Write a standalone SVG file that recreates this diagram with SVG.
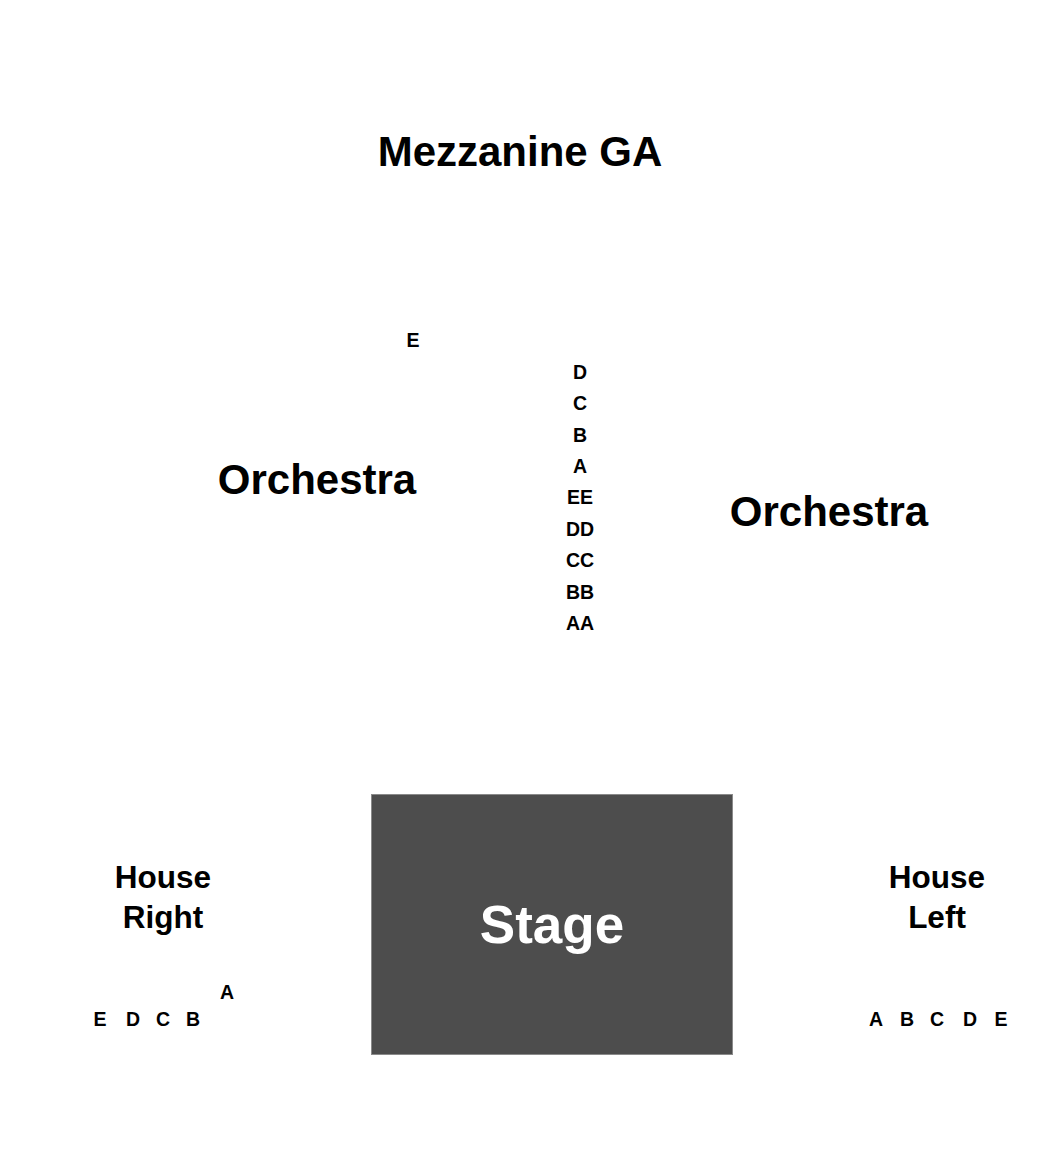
<svg xmlns="http://www.w3.org/2000/svg" width="1050" height="1150" viewBox="0 0 1050 1150">
<style>
text{font-family:"Liberation Sans",Arial,sans-serif;font-weight:bold;fill:#000;text-anchor:middle}
.big{font-size:42px}
.house{font-size:31.5px}
.row{font-size:19.5px}
.stage-label{font-size:53px;fill:#fff}
</style>
<rect x="0" y="0" width="1050" height="1150" fill="#fff"/>
<g id="mezzanine"><text class="big" x="520" y="166">Mezzanine GA</text></g>
<g id="orchestra-left"><text class="big" x="317" y="494">Orchestra</text></g>
<g id="orchestra-right"><text class="big" x="829" y="526">Orchestra</text></g>
<g id="orchestra-rows">
<text class="row" x="413" y="347">E</text>
<text class="row" x="580" y="379">D</text>
<text class="row" x="580" y="410">C</text>
<text class="row" x="580" y="442">B</text>
<text class="row" x="580" y="473">A</text>
<text class="row" x="580" y="504">EE</text>
<text class="row" x="580" y="536">DD</text>
<text class="row" x="580" y="567">CC</text>
<text class="row" x="580" y="599">BB</text>
<text class="row" x="580" y="630">AA</text>
</g>
<g id="stage">
<rect x="371.5" y="794.5" width="361" height="260" fill="#4d4d4d" stroke="#8a8a8a" stroke-width="1"/>
<text class="stage-label" x="552" y="943">Stage</text>
</g>
<g id="house-right">
<text class="house" x="163" y="888">House</text>
<text class="house" x="163" y="928">Right</text>
<text class="row" x="227" y="999">A</text>
<text class="row" x="100" y="1026">E</text>
<text class="row" x="133" y="1026">D</text>
<text class="row" x="163" y="1026">C</text>
<text class="row" x="193" y="1026">B</text>
</g>
<g id="house-left">
<text class="house" x="937" y="888">House</text>
<text class="house" x="937" y="928">Left</text>
<text class="row" x="876" y="1026">A</text>
<text class="row" x="907" y="1026">B</text>
<text class="row" x="937" y="1026">C</text>
<text class="row" x="970" y="1026">D</text>
<text class="row" x="1001" y="1026">E</text>
</g>
<g id="connectors"></g>
</svg>
